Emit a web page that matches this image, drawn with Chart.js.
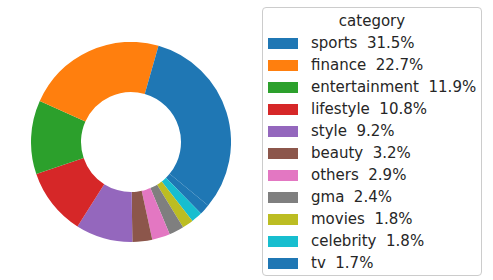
<!DOCTYPE html>
<html>
<head>
<meta charset="utf-8">
<script src="https://cdn.jsdelivr.net/npm/chart.js@4"></script>
<style>
  html, body { margin: 0; padding: 0; background: #fff; }
  body { width: 493px; height: 280px; position: relative; overflow: hidden;
         font-family: "DejaVu Sans", sans-serif; color: #262626; }
  #pie { position: absolute; left: 31px; top: 42px; width: 200px; height: 200px; }
  #legend { position: absolute; left: 262px; top: 7px; width: 220px; height: 269px;
            box-sizing: border-box; border: 1px solid #cccccc; border-radius: 4px; }
  #legend .title { position: absolute; left: 0; right: 0; top: 2px; text-align: center;
                   font-size: 15px; line-height: 22px; }
  #legend .row { position: absolute; left: 0; height: 22px; line-height: 22px;
                 font-size: 15px; white-space: pre; }
  #legend .sw { position: absolute; left: 5px; top: 6px; width: 30px; height: 11px; }
  #legend .lbl { position: absolute; left: 48px; top: 0; }
</style>
</head>
<body>
<div id="pie"><canvas id="chart" width="200" height="200"></canvas></div>
<div id="legend"></div>
<script>
  // 数据
  var categories = ['sports', 'finance', 'entertainment', 'lifestyle', 'style', 'beauty',
                    'others', 'gma', 'movies', 'celebrity', 'tv'];
  var shares = [31.5, 22.7, 11.9, 10.8, 9.2, 3.2, 2.9, 2.4, 1.8, 1.8, 1.7];
  var colors = ['#1f77b4', '#ff7f0e', '#2ca02c', '#d62728', '#9467bd', '#8c564b',
                '#e377c2', '#7f7f7f', '#bcbd22', '#17becf', '#1f77b4'];

  // 图例
  var legend = document.getElementById('legend');
  var t = document.createElement('div');
  t.className = 'title';
  t.textContent = 'category';
  legend.appendChild(t);
  categories.forEach(function(name, i) {
    var row = document.createElement('div');
    row.className = 'row';
    row.style.top = (24 + i * 22) + 'px';
    row.innerHTML = '<span class="sw" style="background:' + colors[i] + '"></span>' +
                    '<span class="lbl"></span>';
    row.querySelector('.lbl').textContent = name + '  ' + shares[i].toFixed(1) + '%';
    legend.appendChild(row);
  });

  // 逆时针顺序：反转数据后顺时针绘制
  var rev = function(a) { return a.slice().reverse(); };

  new Chart(document.getElementById('chart'), {
    type: 'doughnut',
    data: {
      labels: rev(categories),
      datasets: [{
        data: rev(shares),
        backgroundColor: rev(colors),
        borderWidth: 0
      }]
    },
    options: {
      responsive: false,
      animation: false,
      cutout: '50%',
      rotation: 129.5,
      layout: { padding: 0 },
      plugins: {
        legend: { display: false },
        tooltip: { enabled: false }
      }
    }
  });
</script>
</body>
</html>
